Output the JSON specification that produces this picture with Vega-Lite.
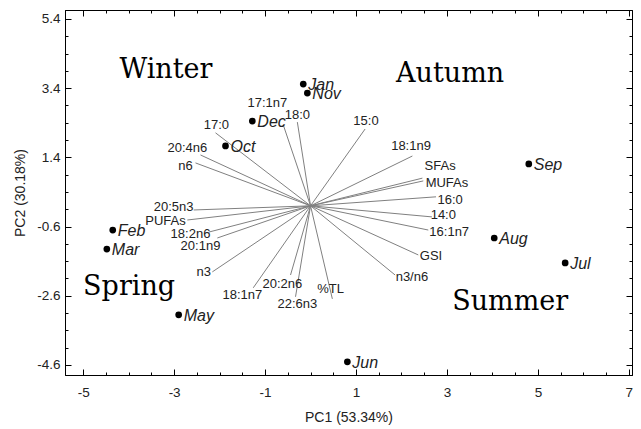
{
  "$schema": "https://vega.github.io/schema/vega-lite/v6.json",
  "width": 567,
  "height": 365,
  "autosize": {"type": "none"},
  "padding": {"left": 65, "top": 10, "right": 9, "bottom": 54},
  "background": "white",
  "config": {
    "view": {"stroke": "black", "strokeWidth": 1},
    "axis": {
      "grid": false,
      "domainColor": "black",
      "domainWidth": 1,
      "tickColor": "black",
      "tickWidth": 1,
      "labelColor": "#222222",
      "titleColor": "#222222",
      "labelFont": "Liberation Sans, Arial, sans-serif",
      "labelFontSize": 13.5,
      "titleFont": "Liberation Sans, Arial, sans-serif",
      "titleFontSize": 14,
      "titleFontWeight": "normal",
      "labelOverlap": false,
      "labelFlush": false
    }
  },
  "datasets": {
    "loadings": [
      {"var": "17:0", "pc1": -2.09, "pc2": 2.11, "lx": -2.07, "ly": 2.34},
      {"var": "20:4n6", "pc1": -2.42, "pc2": 1.47, "lx": -2.71, "ly": 1.67},
      {"var": "n6", "pc1": -2.53, "pc2": 1.24, "lx": -2.75, "ly": 1.15},
      {"var": "17:1n7", "pc1": -0.60, "pc2": 2.34, "lx": -0.95, "ly": 2.97},
      {"var": "18:0", "pc1": -0.29, "pc2": 2.42, "lx": -0.29, "ly": 2.63},
      {"var": "15:0", "pc1": 1.20, "pc2": 2.22, "lx": 1.22, "ly": 2.45},
      {"var": "18:1n9", "pc1": 2.24, "pc2": 1.44, "lx": 2.21, "ly": 1.73},
      {"var": "SFAs", "pc1": 2.46, "pc2": 0.80, "lx": 2.85, "ly": 1.15},
      {"var": "MUFAs", "pc1": 2.48, "pc2": 0.72, "lx": 3.00, "ly": 0.66},
      {"var": "16:0", "pc1": 2.76, "pc2": 0.26, "lx": 3.07, "ly": 0.17},
      {"var": "14:0", "pc1": 2.67, "pc2": -0.32, "lx": 2.92, "ly": -0.26},
      {"var": "16:1n7", "pc1": 2.59, "pc2": -0.70, "lx": 3.05, "ly": -0.76},
      {"var": "GSI", "pc1": 2.37, "pc2": -1.42, "lx": 2.65, "ly": -1.45},
      {"var": "n3/n6", "pc1": 1.86, "pc2": -2.00, "lx": 2.23, "ly": -2.06},
      {"var": "%TL", "pc1": 0.48, "pc2": -2.69, "lx": 0.44, "ly": -2.40},
      {"var": "22:6n3", "pc1": -0.33, "pc2": -2.63, "lx": -0.29, "ly": -2.84},
      {"var": "20:2n6", "pc1": -0.44, "pc2": -2.00, "lx": -0.62, "ly": -2.26},
      {"var": "18:1n7", "pc1": -1.26, "pc2": -2.37, "lx": -1.50, "ly": -2.58},
      {"var": "n3", "pc1": -2.16, "pc2": -1.91, "lx": -2.35, "ly": -1.91},
      {"var": "20:1n9", "pc1": -2.05, "pc2": -0.93, "lx": -2.42, "ly": -1.16},
      {"var": "18:2n6", "pc1": -2.24, "pc2": -0.76, "lx": -2.64, "ly": -0.81},
      {"var": "PUFAs", "pc1": -2.71, "pc2": -0.41, "lx": -3.19, "ly": -0.44},
      {"var": "20:5n3", "pc1": -2.57, "pc2": -0.12, "lx": -3.01, "ly": -0.03}
    ],
    "scores": [
      {"month": "Jan", "pc1": -0.16, "pc2": 3.52},
      {"month": "Nov", "pc1": -0.07, "pc2": 3.26},
      {"month": "Dec", "pc1": -1.28, "pc2": 2.45},
      {"month": "Oct", "pc1": -1.87, "pc2": 1.73},
      {"month": "Sep", "pc1": 4.80, "pc2": 1.21},
      {"month": "Feb", "pc1": -4.35, "pc2": -0.70},
      {"month": "Mar", "pc1": -4.48, "pc2": -1.25},
      {"month": "May", "pc1": -2.90, "pc2": -3.15},
      {"month": "Aug", "pc1": 4.04, "pc2": -0.93},
      {"month": "Jul", "pc1": 5.60, "pc2": -1.65},
      {"month": "Jun", "pc1": 0.81, "pc2": -4.51}
    ],
    "seasons": [
      {"season": "Winter", "sx": -3.18, "sy": 3.69},
      {"season": "Autumn", "sx": 3.07, "sy": 3.58},
      {"season": "Spring", "sx": -3.99, "sy": -2.58},
      {"season": "Summer", "sx": 4.39, "sy": -3.01}
    ]
  },
  "resolve": {"axis": {"x": "independent", "y": "independent"}},
  "layer": [
    {
      "data": {"name": "loadings"},
      "mark": {"type": "rule", "color": "#808080", "strokeWidth": 1},
      "encoding": {
        "x": {
          "field": "pc1", "type": "quantitative",
          "scale": {"domain": [-5.4, 7.07], "nice": false, "zero": false},
          "axis": {
            "orient": "bottom",
            "values": [-5, -4.5, -4, -3.5, -3, -2.5, -2, -1.5, -1, -0.5, 0, 0.5, 1, 1.5, 2, 2.5, 3, 3.5, 4, 4.5, 5, 5.5, 6, 6.5, 7],
            "labelExpr": "abs(datum.value % 2) == 1 ? toString(datum.value) : ''",
            "tickSize": {"condition": {"test": "abs(datum.value % 2) == 1", "value": -6}, "value": -3},
            "labelPadding": 16,
            "title": "PC1 (53.34%)",
            "titlePadding": 9
          }
        },
        "y": {
          "field": "pc2", "type": "quantitative",
          "scale": {"domain": [-4.89, 5.66], "nice": false, "zero": false},
          "axis": {
            "orient": "left",
            "values": [-4.6, -4.1, -3.6, -3.1, -2.6, -2.1, -1.6, -1.1, -0.6, -0.1, 0.4, 0.9, 1.4, 1.9, 2.4, 2.9, 3.4, 3.9, 4.4, 4.9, 5.4],
            "labelExpr": "abs(round((datum.value + 0.6) / 2) - (datum.value + 0.6) / 2) < 0.01 ? toString(datum.value) : ''",
            "tickSize": {"condition": {"test": "abs(round((datum.value + 0.6) / 2) - (datum.value + 0.6) / 2) < 0.01", "value": -6}, "value": -3},
            "labelPadding": 11,
            "title": "PC2 (30.18%)",
            "titlePadding": 9
          }
        },
        "x2": {"datum": 0},
        "y2": {"datum": 0}
      }
    },
    {
      "data": {"name": "loadings"},
      "mark": {"type": "text", "font": "Liberation Sans, Arial, sans-serif", "fontSize": 13, "color": "#222222", "align": "center", "baseline": "middle"},
      "encoding": {
        "x": {"field": "lx", "type": "quantitative", "axis": null},
        "y": {"field": "ly", "type": "quantitative", "axis": null},
        "text": {"field": "var"}
      }
    },
    {
      "data": {"name": "scores"},
      "mark": {"type": "point", "filled": true, "color": "black", "size": 45, "opacity": 1},
      "encoding": {
        "x": {
          "field": "pc1", "type": "quantitative",
          "axis": {
            "orient": "top",
            "values": [-5, -4.5, -4, -3.5, -3, -2.5, -2, -1.5, -1, -0.5, 0, 0.5, 1, 1.5, 2, 2.5, 3, 3.5, 4, 4.5, 5, 5.5, 6, 6.5, 7],
            "labels": false,
            "tickSize": {"condition": {"test": "abs(datum.value % 2) == 1", "value": -6}, "value": -3},
            "title": null
          }
        },
        "y": {
          "field": "pc2", "type": "quantitative",
          "axis": {
            "orient": "right",
            "values": [-4.6, -4.1, -3.6, -3.1, -2.6, -2.1, -1.6, -1.1, -0.6, -0.1, 0.4, 0.9, 1.4, 1.9, 2.4, 2.9, 3.4, 3.9, 4.4, 4.9, 5.4],
            "labels": false,
            "tickSize": {"condition": {"test": "abs(round((datum.value + 0.6) / 2) - (datum.value + 0.6) / 2) < 0.01", "value": -6}, "value": -3},
            "title": null
          }
        }
      }
    },
    {
      "data": {"name": "scores"},
      "mark": {"type": "text", "font": "Liberation Sans, Arial, sans-serif", "fontSize": 16, "fontStyle": "italic", "color": "#222222", "align": "left", "baseline": "middle", "dx": 5, "dy": 1},
      "encoding": {
        "x": {"field": "pc1", "type": "quantitative", "axis": null},
        "y": {"field": "pc2", "type": "quantitative", "axis": null},
        "text": {"field": "month"}
      }
    },
    {
      "data": {"name": "seasons"},
      "mark": {"type": "text", "font": "DejaVu Serif", "fontSize": 27, "color": "black", "align": "center", "baseline": "alphabetic"},
      "encoding": {
        "x": {"field": "sx", "type": "quantitative", "axis": null},
        "y": {"field": "sy", "type": "quantitative", "axis": null},
        "text": {"field": "season"}
      }
    }
  ]
}
